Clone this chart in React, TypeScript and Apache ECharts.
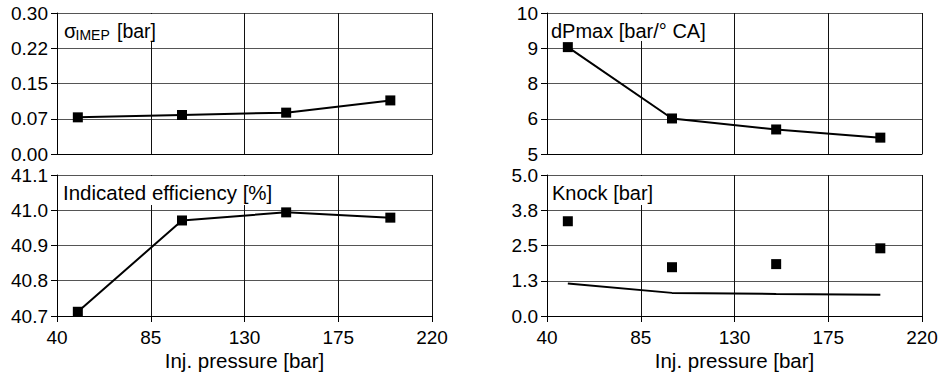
import React, { useEffect, useRef } from 'react';
import * as echarts from 'echarts';

// ---- data ----
const injPressure = [50, 100, 150, 200];
const sigmaImep = [0.078, 0.083, 0.088, 0.114];
const indicatedEfficiency = [40.712, 40.971, 40.994, 40.979];
const dPmax = [8.79, 6.26, 5.87, 5.58];
const knockPoints = [3.36, 1.73, 1.84, 2.4];
const knockLine = [1.15, 0.82, 0.78, 0.75];

const xTickLabels = ['40', '85', '130', '175', '220'];
const sigmaTickLabels = ['0.00', '0.07', '0.15', '0.22', '0.30'];
const effTickLabels = ['40.7', '40.8', '40.9', '41.0', '41.1'];
const dPmaxTickLabels = ['5', '6', '8', '9', '10'];
const knockTickLabels = ['0.0', '1.3', '2.5', '3.8', '5.0'];

const X_MIN = 40;
const X_MAX = 220;
const X_STEP = 45;

const FONT = "'Liberation Sans', Arial, sans-serif";
const FS = 19;

const GRIDS = [
  { left: 57, top: 13, width: 375, height: 141 },
  { left: 57, top: 175, width: 375, height: 141 },
  { left: 547, top: 13, width: 375, height: 141 },
  { left: 547, top: 175, width: 375, height: 141 },
];

function xAxisCfg(gridIndex: number, showLabels: boolean) {
  return {
    type: 'value',
    gridIndex,
    min: 0,
    max: X_MAX - X_MIN,
    interval: X_STEP,
    name: showLabels ? 'Inj. pressure [bar]' : '',
    nameLocation: 'middle',
    nameGap: 34,
    nameTextStyle: { color: '#000', fontSize: 20.5, fontFamily: FONT },
    axisLine: { show: true, onZero: false, lineStyle: { color: '#000', width: 1 } },
    axisTick: { show: showLabels, length: 6, lineStyle: { color: '#000' } },
    axisLabel: {
      show: showLabels,
      margin: 12,
      color: '#000',
      fontSize: FS,
      fontFamily: FONT,
      formatter: (v: number) => xTickLabels[Math.round(v / X_STEP)] ?? '',
    },
    splitLine: { show: true, lineStyle: { color: '#111', width: 1 } },
  };
}

function yAxisCfg(gridIndex: number, min: number, max: number, labels: string[]) {
  const interval = (max - min) / 4;
  return {
    type: 'value',
    gridIndex,
    min,
    max,
    interval,
    axisLine: { show: true, lineStyle: { color: '#000', width: 1 } },
    axisTick: { show: true, length: 6, lineStyle: { color: '#000' } },
    axisLabel: {
      margin: 9,
      color: '#000',
      fontSize: FS,
      fontFamily: FONT,
      formatter: (v: number) => labels[Math.round((v - min) / interval)] ?? '',
    },
    splitLine: { show: true, lineStyle: { color: '#555', width: 1 } },
  };
}

const toXY = (vals: number[]) => injPressure.map((x, i) => [x - X_MIN, vals[i]]);

function lineSeries(idx: number, vals: number[]) {
  return {
    type: 'line',
    xAxisIndex: idx,
    yAxisIndex: idx,
    data: toXY(vals),
    symbol: 'rect',
    symbolSize: 10,
    showSymbol: true,
    lineStyle: { color: '#000', width: 2 },
    itemStyle: { color: '#000', opacity: 1 },
    z: 5,
  };
}

function labelBox(x: number, y: number, w: number, h: number) {
  return {
    type: 'rect',
    z: 50,
    shape: { x, y, width: w, height: h },
    style: { fill: '#fff' },
  };
}

function txt(x: number, y: number, text: string, size: number) {
  return {
    type: 'text',
    z: 51,
    x,
    y,
    style: {
      text,
      fill: '#000',
      font: `${size}px ${FONT}`,
      verticalAlign: 'middle',
      align: 'left',
    },
  };
}

export default function App() {
  const ref = useRef<HTMLDivElement>(null);
  useEffect(() => {
    if (!ref.current) return;
    const chart = echarts.init(ref.current, undefined, { renderer: 'svg' });
    chart.setOption({
      animation: false,
      backgroundColor: '#fff',
      grid: GRIDS,
      xAxis: [xAxisCfg(0, false), xAxisCfg(1, true), xAxisCfg(2, false), xAxisCfg(3, true)],
      yAxis: [
        yAxisCfg(0, 0, 0.3, sigmaTickLabels),
        yAxisCfg(1, 40.7, 41.1, effTickLabels),
        yAxisCfg(2, 5, 10, dPmaxTickLabels),
        yAxisCfg(3, 0, 5, knockTickLabels),
      ],
      series: [
        lineSeries(0, sigmaImep),
        lineSeries(1, indicatedEfficiency),
        lineSeries(2, dPmax),
        {
          type: 'scatter',
          xAxisIndex: 3,
          yAxisIndex: 3,
          data: toXY(knockPoints),
          symbol: 'rect',
          symbolSize: 10,
          itemStyle: { color: '#000', opacity: 1 },
          z: 5,
        },
        {
          type: 'line',
          xAxisIndex: 3,
          yAxisIndex: 3,
          data: toXY(knockLine),
          showSymbol: false,
          symbol: 'none',
          lineStyle: { color: '#000', width: 2 },
          z: 5,
        },
      ],
      graphic: [
        labelBox(58, 14, 102, 27),
        txt(64, 31, 'σ', 20),
        txt(75.5, 35, 'IMEP', 14),
        txt(117, 31, '[bar]', 19.5),
        labelBox(58, 176, 214, 29),
        txt(63, 192, 'Indicated efficiency [%]', 20.5),
        labelBox(548, 14, 162, 27),
        txt(551, 30.5, 'dPmax [bar/° CA]', 20),
        labelBox(548, 176, 110, 29),
        txt(552, 192.5, 'Knock [bar]', 20),
      ],
    });
    return () => chart.dispose();
  }, []);
  return (
    <div
      ref={ref}
      style={{ position: 'absolute', left: 0, top: 0, width: 941, height: 374 }}
    />
  );
}
